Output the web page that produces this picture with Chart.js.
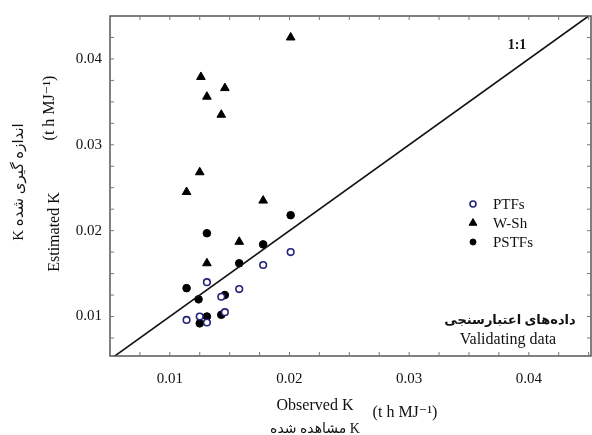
<!DOCTYPE html>
<html>
<head>
<meta charset="utf-8">
<script src="https://cdn.jsdelivr.net/npm/chart.js@4/dist/chart.umd.min.js"></script>
<style>
  html, body { margin: 0; padding: 0; background: #fff; }
  #wrap { width: 592px; height: 435px; }
</style>
</head>
<body>
<div id="wrap"><canvas id="chart" width="592" height="435"></canvas></div>
<script>
// observed vs estimated K
const ptfObs = [0.0201, 0.0178, 0.0131, 0.0158, 0.0143, 0.0146, 0.0114, 0.0125, 0.0131];
const ptfEst = [0.0175, 0.0160, 0.0140, 0.0132, 0.0123, 0.0105, 0.0096, 0.0100, 0.0093];

const wshObs = [0.0201, 0.0126, 0.0146, 0.0131, 0.0143, 0.0125, 0.0114, 0.0178, 0.0158, 0.0131];
const wshEst = [0.0425, 0.0379, 0.0366, 0.0356, 0.0335, 0.0268, 0.0245, 0.0235, 0.0187, 0.0162];

const pstfObs = [0.0201, 0.0131, 0.0178, 0.0158, 0.0114, 0.0124, 0.0146, 0.0131, 0.0125, 0.0143];
const pstfEst = [0.0218, 0.0197, 0.0184, 0.0162, 0.0133, 0.0120, 0.0125, 0.0100, 0.0092, 0.0102];

const lineEnds = [0.005, 0.045];
const xTicks = [0.01, 0.02, 0.03, 0.04];
const yTicks = [0.01, 0.02, 0.03, 0.04];

const serif = '"Liberation Serif", "Times New Roman", "DejaVu Sans", serif';

function pairs(xs, ys) {
  return xs.map((x, i) => ({ x: x, y: ys[i] }));
}

// frame with small inward ticks on all four sides
const framePlugin = {
  id: 'frame',
  afterDatasetsDraw(chart) {
    const ctx = chart.ctx;
    const a = chart.chartArea;
    const xs = chart.scales.x, ys = chart.scales.y;
    ctx.save();
    ctx.strokeStyle = '#555';
    ctx.lineWidth = 1.5;
    ctx.strokeRect(a.left, a.top, a.right - a.left, a.bottom - a.top);
    ctx.lineWidth = 1;
    ctx.strokeStyle = '#777';
    for (let v = 0.0075; v < 0.0451; v += 0.0025) {
      const px = xs.getPixelForValue(v);
      if (px > a.left && px < a.right) {
        ctx.beginPath();
        ctx.moveTo(px, a.bottom); ctx.lineTo(px, a.bottom - 4);
        ctx.moveTo(px, a.top); ctx.lineTo(px, a.top + 4);
        ctx.stroke();
      }
      const py = ys.getPixelForValue(v);
      if (py > a.top && py < a.bottom) {
        ctx.beginPath();
        ctx.moveTo(a.left, py); ctx.lineTo(a.left + 4, py);
        ctx.moveTo(a.right, py); ctx.lineTo(a.right - 4, py);
        ctx.stroke();
      }
    }
    ctx.restore();
  }
};

// axis titles, notes and the legend box
const textPlugin = {
  id: 'texts',
  afterDraw(chart) {
    const ctx = chart.ctx;
    ctx.save();
    ctx.fillStyle = '#111';
    ctx.textAlign = 'center';
    ctx.textBaseline = 'middle';

    // y title
    ctx.save();
    ctx.translate(55, 232);
    ctx.rotate(-Math.PI / 2);
    ctx.font = '16px ' + serif;
    ctx.fillText('Estimated K', 0, 0);
    ctx.restore();

    ctx.save();
    ctx.translate(50, 108);
    ctx.rotate(-Math.PI / 2);
    ctx.font = '16px ' + serif;
    ctx.fillText('(t h MJ\u207B\u00B9)', 0, 0);
    ctx.restore();

    ctx.save();
    ctx.translate(19, 182);
    ctx.rotate(-Math.PI / 2);
    ctx.font = '15px ' + serif;
    ctx.fillText('K \u0627\u0646\u062F\u0627\u0632\u0647 \u06AF\u06CC\u0631\u06CC \u0634\u062F\u0647', 0, 0);
    ctx.restore();

    // x title
    ctx.font = '16px ' + serif;
    ctx.fillText('Observed K', 315, 406);
    ctx.fillText('(t h MJ\u207B\u00B9)', 405, 413);
    ctx.font = '14px ' + serif;
    ctx.fillText('\u0645\u0634\u0627\u0647\u062F\u0647 \u0634\u062F\u0647 K', 315, 429);

    // 1:1 label
    ctx.font = 'bold 14px ' + serif;
    ctx.fillText('1:1', 517, 45);

    // validating note
    ctx.font = 'bold 13px ' + serif;
    ctx.fillText('\u062F\u0627\u062F\u0647\u200C\u0647\u0627\u06CC \u0627\u0639\u062A\u0628\u0627\u0631\u0633\u0646\u062C\u06CC', 510, 321);
    ctx.font = '16px ' + serif;
    ctx.fillText('Validating data', 508, 340);

    // legend
    const rows = [204, 223, 242];
    chart.data.datasets.slice(1).forEach((ds, i) => {
      ctx.save();
      ctx.fillStyle = ds.backgroundColor;
      ctx.strokeStyle = ds.borderColor;
      ctx.lineWidth = ds.borderWidth;
      Chart.helpers.drawPoint(ctx, {
        pointStyle: ds.pointStyle,
        radius: ds.legendRadius,
        borderWidth: ds.borderWidth
      }, 473, rows[i]);
      ctx.restore();
      ctx.fillStyle = '#111';
      ctx.textAlign = 'left';
      ctx.font = '15px ' + serif;
      ctx.fillText(ds.label, 493, rows[i] + 1);
    });
    ctx.restore();
  }
};

const chart = new Chart(document.getElementById('chart'), {
  type: 'scatter',
  data: {
    datasets: [
      {
        label: '1:1',
        type: 'line',
        data: pairs(lineEnds, lineEnds),
        borderColor: '#111',
        borderWidth: 1.6,
        pointRadius: 0,
        fill: false
      },
      {
        label: 'PTFs',
        data: pairs(ptfObs, ptfEst),
        pointStyle: 'circle',
        pointRadius: 3.3,
        legendRadius: 3,
        backgroundColor: '#fff',
        borderColor: '#23237a',
        borderWidth: 1.6
      },
      {
        label: 'W-Sh',
        data: pairs(wshObs, wshEst),
        pointStyle: 'triangle',
        pointRadius: 5,
        legendRadius: 4.5,
        backgroundColor: '#000',
        borderColor: '#000',
        borderWidth: 1
      },
      {
        label: 'PSTFs',
        data: pairs(pstfObs, pstfEst),
        pointStyle: 'circle',
        pointRadius: 3.8,
        legendRadius: 3,
        backgroundColor: '#000',
        borderColor: '#000',
        borderWidth: 1
      }
    ]
  },
  options: {
    responsive: false,
    animation: false,
    layout: { autoPadding: false, padding: { top: 16, right: 1, left: 0, bottom: 0 } },
    plugins: {
      legend: { display: false },
      tooltip: { enabled: false }
    },
    scales: {
      x: {
        type: 'linear',
        min: 0.005,
        max: 0.0452,
        afterFit(s) { s.height = 79; s.paddingLeft = 0; s.paddingRight = 0; },
        afterBuildTicks(s) { s.ticks = xTicks.map(v => ({ value: v })); },
        grid: { display: false, drawTicks: false },
        border: { display: false },
        ticks: {
          padding: 14,
          color: '#111',
          font: { family: serif, size: 15 },
          callback: v => v.toFixed(2)
        }
      },
      y: {
        type: 'linear',
        min: 0.0054,
        max: 0.0450,
        afterFit(s) { s.width = 110; s.paddingTop = 0; s.paddingBottom = 0; },
        afterBuildTicks(s) { s.ticks = yTicks.map(v => ({ value: v })); },
        grid: { display: false, drawTicks: false },
        border: { display: false },
        ticks: {
          padding: 8,
          color: '#111',
          font: { family: serif, size: 15 },
          callback: v => v.toFixed(2)
        }
      }
    }
  },
  plugins: [framePlugin, textPlugin]
});
</script>
</body>
</html>
